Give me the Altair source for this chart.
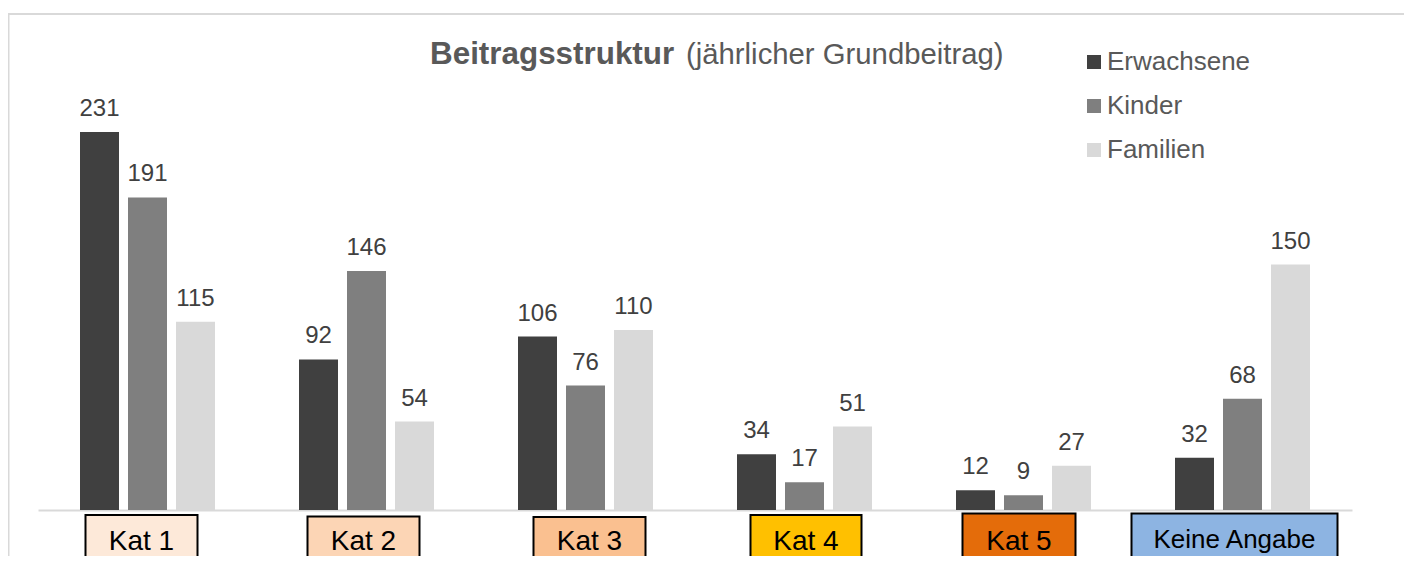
import altair as alt
import pandas as pd

categories = ["Kat 1", "Kat 2", "Kat 3", "Kat 4", "Kat 5", "Keine Angabe"]
series = ["Erwachsene", "Kinder", "Familien"]
erwachsene = [231, 92, 106, 34, 12, 32]
kinder = [191, 146, 76, 17, 9, 68]
familien = [115, 54, 110, 51, 27, 150]
series_colors = ["#404040", "#7F7F7F", "#D9D9D9"]
cat_colors = ["#FDE9D9", "#FCD5B5", "#FAC090", "#FFC000", "#E46C0A", "#8DB4E2"]

FONT = "Liberation Sans"
W, H = 1314, 491

# layout of the category label boxes: (x shift, box width, box top below axis, font size, text baseline below axis)
box_layout = {
    "Kat 1": (-6, 112, 5, 28, 40),
    "Kat 2": (-3, 112, 6.5, 28, 40),
    "Kat 3": (4, 112, 7, 28, 40),
    "Kat 4": (1.5, 111, 5, 28, 40),
    "Kat 5": (-4.5, 113, 3.5, 28, 40),
    "Keine Angabe": (-8, 206, 3.5, 26, 38),
}

rows = []
for s, vals in zip(series, [erwachsene, kinder, familien]):
    for c, v in zip(categories, vals):
        rows.append({"category": c, "series": s, "value": v})
df = pd.DataFrame(rows)

boxes = pd.DataFrame({"category": categories, "color": cat_colors})

x_enc = alt.X(
    "category:N",
    sort=categories,
    scale=alt.Scale(domain=categories, paddingInner=0.3836, paddingOuter=0.1918),
    axis=alt.Axis(title=None, labels=False, ticks=False, grid=False,
                  domainColor="#D9D9D9", domainWidth=2),
)
xoff = alt.XOffset("series:N", sort=series,
                   scale=alt.Scale(domain=series, paddingInner=0.1875, paddingOuter=0))
y_enc = alt.Y("value:Q", scale=alt.Scale(domain=[0, 300], nice=False), axis=None)

frame = alt.Chart(pd.DataFrame({"k": [0]})).mark_rect(
    fill="transparent", stroke="#D9D9D9", strokeWidth=2
).encode(x=alt.value(-29.5), x2=alt.value(1400), y=alt.value(-5), y2=alt.value(700))

bars = alt.Chart(df).mark_bar().encode(
    x=x_enc,
    xOffset=xoff,
    y=y_enc,
    color=alt.Color(
        "series:N", sort=series,
        scale=alt.Scale(domain=series, range=series_colors),
        legend=alt.Legend(
            title=None, orient="none", legendX=1043, legendY=30,
            symbolType="square", symbolSize=196, symbolStrokeWidth=0,
            labelFontSize=26, labelColor="#595959", labelFont=FONT,
            rowPadding=18, labelOffset=0, padding=0,
        ),
    ),
)

labels = alt.Chart(df).mark_text(
    font=FONT, fontSize=24, color="#404040", baseline="alphabetic", dy=-16
).encode(x=x_enc, xOffset=xoff, y=y_enc, text=alt.Text("value:Q"))

box_layers = []
for cat in categories:
    dx, bw, top, fs, base = box_layout[cat]
    sub = boxes[boxes["category"] == cat]
    box_layers.append(
        alt.Chart(sub).mark_bar(width=bw, stroke="black", strokeWidth=2, xOffset=dx).encode(
            x=x_enc, y=alt.value(H + top), y2=alt.value(H + 90),
            fill=alt.Fill("color:N", scale=None),
        )
    )
    box_layers.append(
        alt.Chart(sub).mark_text(font=FONT, fontSize=fs, color="black",
                                 baseline="alphabetic", dx=dx).encode(
            x=x_enc, y=alt.value(H + base), text="category:N",
        )
    )

title_bold = alt.Chart(pd.DataFrame({"t": ["Beitragsstruktur"]})).mark_text(
    font=FONT, fontSize=31.4, fontWeight="bold", color="#595959", align="left", baseline="alphabetic"
).encode(x=alt.value(392), y=alt.value(45), text="t:N")
title_reg = alt.Chart(pd.DataFrame({"t": ["(jährlicher Grundbeitrag)"]})).mark_text(
    font=FONT, fontSize=29.3, color="#595959", align="left", baseline="alphabetic"
).encode(x=alt.value(648), y=alt.value(45), text="t:N")

chart = alt.layer(
    frame, bars, labels, *box_layers, title_bold, title_reg
).properties(
    width=W, height=H,
    autosize=alt.AutoSizeParams(type="none"),
    padding={"left": 30, "top": 11, "right": 52, "bottom": 46},
).configure_view(stroke=None)

chart.save("out.html", embed_options={"renderer": "svg", "actions": False})
